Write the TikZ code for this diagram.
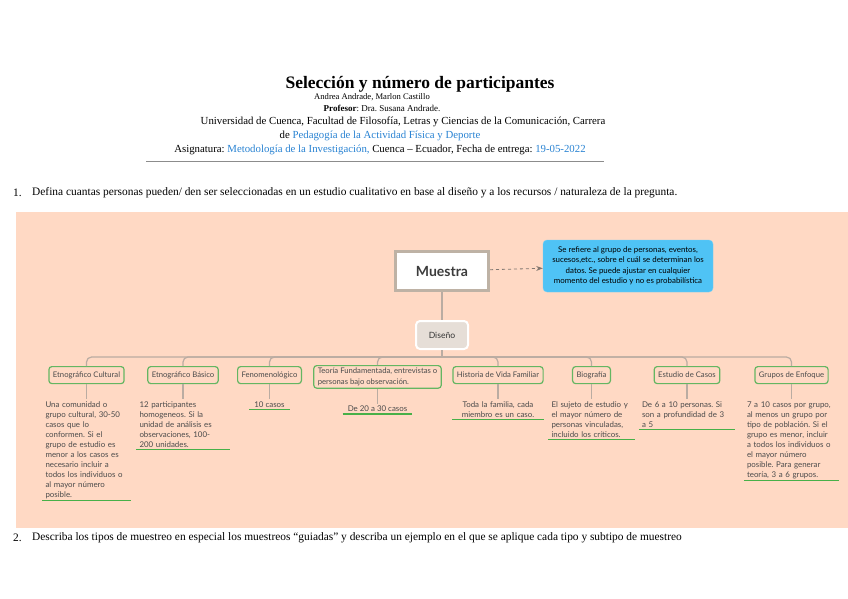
\documentclass[tikz,border=0pt]{standalone}
\usepackage{fontspec}
\setmainfont{Liberation Serif}
\newfontfamily\mapfont{Lato}
\usetikzlibrary{arrows.meta,positioning,calc}
\frenchspacing
\definecolor{peach}{RGB}{255,217,196}
\definecolor{linkblue}{RGB}{40,130,210}
\definecolor{notecol}{RGB}{79,195,245}
\definecolor{conncol}{RGB}{186,172,162}
\definecolor{framecol}{RGB}{190,178,165}
\definecolor{designfill}{RGB}{230,222,215}
\definecolor{leafgreen}{RGB}{100,182,98}
\definecolor{linegreen}{RGB}{72,176,72}
\definecolor{mapgray}{RGB}{75,75,75}
\definecolor{rulegray}{RGB}{140,140,140}

\begin{document}
\begin{tikzpicture}[
    x=1pt, y=-1pt,
    >=Stealth,
    headline/.style={font=\fontsize{10.8}{12}\selectfont, inner sep=0pt},
    question/.style={font=\fontsize{11.4}{13}\selectfont, inner sep=0pt, anchor=west},
    root/.style={draw=framecol, line width=3pt, fill=white, minimum width=93pt, minimum height=39pt,
                 font=\mapfont\bfseries\fontsize{14}{16}\selectfont, text=mapgray!80!black},
    note/.style={fill=notecol, draw=notecol!80!white, rounded corners=4pt, minimum width=170pt, minimum height=52pt,
                 align=center, font=\mapfont\fontsize{7.9}{10.5}\selectfont, inner sep=2pt},
    design/.style={fill=designfill, draw=white, line width=2pt, rounded corners=4pt, minimum width=52pt,
                   minimum height=28pt, font=\mapfont\fontsize{8.6}{10}\selectfont, text=mapgray!70!black},
    leaf/.style={draw=leafgreen, line width=1.2pt, rounded corners=3pt, anchor=north, minimum height=17pt,
                 inner xsep=4pt, inner ysep=2.5pt, align=left, font=\mapfont\fontsize{7.7}{10.5}\selectfont, text=mapgray},
    desc/.style={below=15pt of #1, inner xsep=3pt, inner ysep=2pt,
                 font=\mapfont\fontsize{7.9}{10}\selectfont, text=mapgray},
    conn/.style={draw=conncol, line width=1.2pt},
    uline/.style={draw=linegreen, line width=1.2pt},
]
\useasboundingbox (0,0) rectangle (848,599);

% ============ HEADER ============
\node[inner sep=0pt, font=\bfseries\fontsize{17.5}{20}\selectfont] (title) at (420,84) {Selección y número de participantes};
\node[inner sep=0pt, font=\fontsize{8.6}{9}\selectfont] (authors) at (372,97) {Andrea Andrade, Marlon Castillo};
\node[inner sep=0pt, font=\fontsize{9}{10}\selectfont] (prof) at (382,108) {\textbf{Profesor}: Dra. Susana Andrade.};
\node[headline] (univ) at (403,122) {Universidad de Cuenca, Facultad de Filosofía, Letras y Ciencias de la Comunicación, Carrera};
\node[headline] (career) at (380,136) {de \textcolor{linkblue}{Pedagogía de la Actividad Física y Deporte}};
\node[headline] (subject) at (380,150) {Asignatura: \textcolor{linkblue}{Metodología de la Investigación,} Cuenca -- Ecuador, Fecha de entrega: \textcolor{linkblue}{19-05-2022}};
\draw[rulegray, line width=1pt] (146,161) -- (604,161);

% ============ QUESTION 1 ============
\node[question] (q1n) at (13,193) {1.};
\node[question] (q1) at (32,193) {Defina cuantas personas pueden/ den ser seleccionadas en un estudio cualitativo en base al diseño y a los recursos / naturaleza de la pregunta.};

% ============ CONCEPT MAP ============
\fill[peach] (16,212) rectangle (848,528);

\node[root] (muestra) at (442,271) {Muestra};
\node[note] (nota) at (628,266) {Se refiere al grupo de personas, eventos,\\
  sucesos,etc., sobre el cuál se determinan los\\
  datos. Se puede ajustar en cualquier\\
  momento del estudio y no es probabilística};
\draw[->, dashed, draw=conncol!70!black, line width=0.8pt] (muestra) -- (nota);

\node[design, below=28pt of muestra] (diseno) {Diseño};
\draw[conn] (muestra) -- (diseno);

% leaves
\node[leaf] (etnoc) at (86.5,366) {Etnográfico Cultural};
\node[leaf] (etnob) at (183,366) {Etnográfico Básico};
\node[leaf] (fenom) at (269.5,366) {Fenomenológico};
\node[leaf] (teoria) at (377.5,365) {Teoría Fundamentada, entrevistas o\\personas bajo observación.};
\node[leaf] (historia) at (498,366) {Historia de Vida Familiar};
\node[leaf] (biog) at (591.5,366) {Biografía};
\node[leaf] (casos) at (687,366) {Estudio de Casos};
\node[leaf] (enfoque) at (791.5,366) {Grupos de Enfoque};

% descriptions
\node[desc=etnoc, text width=82pt, align=left] (etnoc-t) {Una comunidad o\\grupo cultural, 30-50\\casos que lo\\conformen. Si el\\grupo de estudio es\\menor a los casos es\\necesario incluir a\\todos los individuos o\\al mayor número\\posible.};
\node[desc=etnob, text width=87pt, align=left] (etnob-t) {12 participantes\\homogeneos. Si la\\unidad de análisis es\\observaciones, 100-\\200 unidades.};
\node[desc=fenom, inner xsep=5pt] (fenom-t) {10 casos};
\node[desc=teoria, inner xsep=5pt] (teoria-t) {De 20 a 30 casos};
\node[desc=historia, text width=85pt, align=center] (historia-t) {Toda la familia, cada\\miembro es un caso.};
\node[desc=biog, text width=80pt, align=left] (biog-t) {El sujeto de estudio y\\el mayor número de\\personas vinculadas,\\incluido los críticos.};
\node[desc=casos, text width=90pt, align=left] (casos-t) {De 6 a 10 personas. Si\\son a profundidad de 3\\a 5};
\node[desc=enfoque, text width=89pt, align=left] (enfoque-t) {7 a 10 casos por grupo,\\al menos un grupo por\\tipo de población. Si el\\grupo es menor, incluir\\a todos los individuos o\\el mayor número\\posible. Para generar\\teoría, 3 a 6 grupos.};

% bus from Diseño to the leaves
\coordinate (bus) at ($(diseno.south)+(0,7)$);
\draw[conn] (diseno) -- (bus);
\foreach \c in {etnoc,etnob,fenom,teoria,historia,biog,casos,enfoque} {
  \draw[conn, rounded corners=5pt] (bus) -| (\c.north);
  \draw[conn] (\c) -- (\c-t);
  \draw[uline] (\c-t.south west) -- (\c-t.south east);
}

% ============ QUESTION 2 ============
\node[question] (q2n) at (13,538) {2.};
\node[question] (q2) at (32,538) {Describa los tipos de muestreo en especial los muestreos “guiadas” y describa un ejemplo en el que se aplique cada tipo y subtipo de muestreo};

\end{tikzpicture}
\end{document}
